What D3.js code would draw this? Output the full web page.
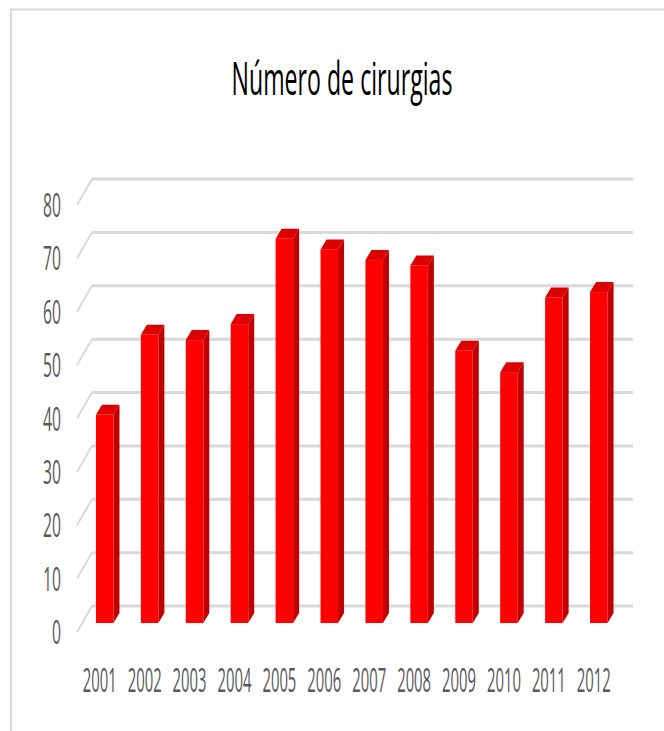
<!DOCTYPE html>
<html>
<head>
<meta charset="utf-8">
<script src="https://cdn.jsdelivr.net/npm/d3@7"></script>
<style>
  body { margin: 0; background: #fff; }
  svg { display: block; font-family: "Open Sans", "Noto Sans", sans-serif; }
</style>
</head>
<body>
<svg width="664" height="731"></svg>
<script>
const years = ["2001","2002","2003","2004","2005","2006","2007","2008","2009","2010","2011","2012"];
const cirurgias = [39, 54, 53, 56, 72, 70, 68, 67, 51, 47, 61, 62];
const yTicks = [0, 10, 20, 30, 40, 50, 60, 70, 80];
const title = "Número de cirurgias";

const data = years.map((y, i) => ({year: y, value: cirurgias[i]}));

const svg = d3.select("svg");

// squeeze a text horizontally to a target width (tall narrow look of the original)
function squeeze(sel, width, ax, ay) {
  sel.each(function(d) {
    const w = typeof width === "function" ? width(d) : width;
    const len = this.getComputedTextLength();
    const px = ax(d), py = ay(d);
    d3.select(this)
      .attr("x", 0).attr("y", 0)
      .attr("transform", `translate(${px},${py}) scale(${w / len},1)`);
  });
}

// chart frame (only top and left edge are visible)
svg.append("path")
  .attr("d", "M11,731V9.5H664")
  .attr("fill", "none")
  .attr("stroke", "#d9d9d9")
  .attr("stroke-width", 2);

const x = d3.scaleBand()
  .domain(years)
  .range([73.5, 630])
  .paddingInner(0.61)
  .paddingOuter(0.5);

// y of the floor front edge; bars sit 9px back, back wall 26px back
const y = d3.scaleLinear().domain([0, 80]).range([632, 205]);
const depthX = 6, depthY = 10;

// gridlines: short diagonal on the floor side + line on the back wall
const grid = svg.append("g");
grid.selectAll(".diag")
  .data(yTicks)
  .enter()
  .append("line")
  .attr("x1", 77).attr("y1", d => y(d))
  .attr("x2", 92).attr("y2", d => y(d) - 26)
  .attr("stroke", "#d9d9d9")
  .attr("stroke-width", 2);
grid.selectAll(".back")
  .data(yTicks)
  .enter()
  .append("line")
  .attr("x1", 92).attr("y1", d => y(d) - 26)
  .attr("x2", 633).attr("y2", d => y(d) - 26)
  .attr("stroke", "#d9d9d9")
  .attr("stroke-width", 3);

// y tick labels
svg.append("g").selectAll("text")
  .data(yTicks)
  .enter()
  .append("text")
  .attr("text-anchor", "end")
  .attr("font-size", 33)
  .attr("fill", "#595959")
  .text(d => d)
  .call(squeeze, d => String(d).length * 9, () => 61, d => y(d) + 12);

// bars (front, side, top)
const bw = x.bandwidth();
const base = y(0) - 9;
const bars = svg.append("g").selectAll("g")
  .data(data)
  .enter()
  .append("g");

bars.append("path")
  .attr("fill", "#c00000")
  .attr("d", d => {
    const x0 = x(d.year) + bw, t = y(d.value) - 9;
    return `M${x0},${t}L${x0 + depthX},${t - depthY}L${x0 + depthX},${base - depthY}L${x0},${base}Z`;
  });
bars.append("path")
  .attr("fill", "#dd0000")
  .attr("d", d => {
    const x0 = x(d.year), t = y(d.value) - 9;
    return `M${x0},${t}L${x0 + depthX},${t - depthY}L${x0 + bw + depthX},${t - depthY}L${x0 + bw},${t}Z`;
  });
bars.append("rect")
  .attr("fill", "#ff0000")
  .attr("x", d => x(d.year))
  .attr("y", d => y(d.value) - 9)
  .attr("width", bw)
  .attr("height", d => base - (y(d.value) - 9));

// x labels
svg.append("g").selectAll("text")
  .data(years)
  .enter()
  .append("text")
  .attr("text-anchor", "middle")
  .attr("font-size", 33)
  .attr("fill", "#595959")
  .text(d => d)
  .call(squeeze, 34, d => x(d) + bw / 2 - 5, () => 692);

// title
svg.append("text")
  .datum(title)
  .attr("text-anchor", "middle")
  .attr("font-size", 46)
  .attr("fill", "#000")
  .text(d => d)
  .call(squeeze, 221, () => 342, () => 95);
</script>
</body>
</html>
